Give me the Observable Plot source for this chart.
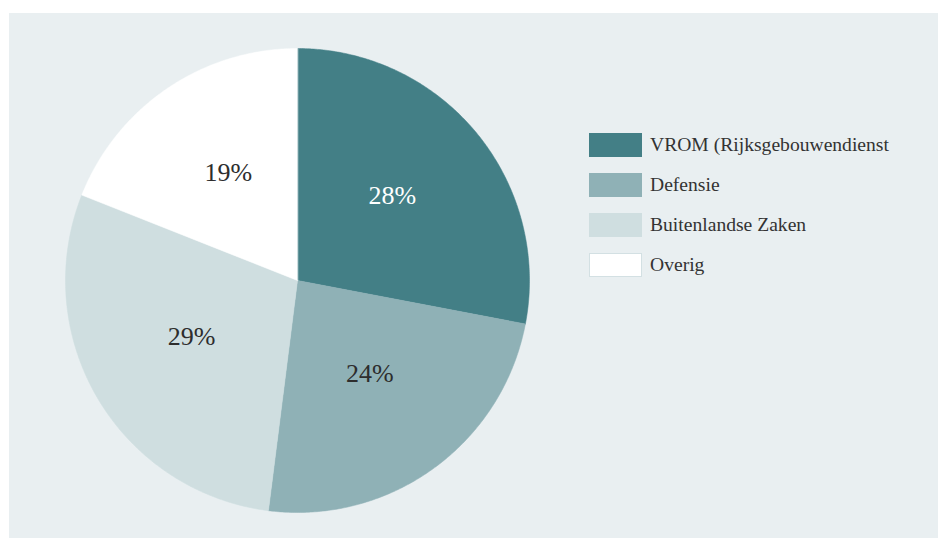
<!DOCTYPE html>
<html><head><meta charset="utf-8">
<script src="https://cdn.jsdelivr.net/npm/d3@7"></script>
<script src="https://cdn.jsdelivr.net/npm/@observablehq/plot@0.6"></script>
<style>
body{margin:0;background:#fff;}
#wrap{position:relative;width:939px;height:538px;overflow:hidden;}
#panel{position:absolute;left:9px;top:13px;width:929px;height:525px;background:#e9eff1;}
#chart{position:absolute;left:0;top:0;}
#legend{position:absolute;left:589px;top:133px;font-family:"Liberation Serif",serif;font-size:19.6px;color:#333;}
.item{display:flex;align-items:center;height:24px;margin-bottom:16px;white-space:nowrap;}
.sw{width:53px;height:24px;box-sizing:border-box;margin-right:8px;}
</style></head><body>
<div id="wrap"><div id="panel"></div><div id="chart"></div><div id="legend"></div></div>
<script>
const categories = ["VROM (Rijksgebouwendienst", "Defensie", "Buitenlandse Zaken", "Overig"];
const shares = [28, 24, 29, 19];
const labels = ["28%", "24%", "29%", "19%"];
const colors = ["#437f86", "#8fb1b6", "#cfdee0", "#ffffff"];
const labelColors = ["#ffffff", "#2d2d2d", "#2d2d2d", "#2d2d2d"];

const arcs = d3.pie().sort(null).value(d => d)(shares);
function slicePolygon(a0, a1) {
  const pts = [[0, 0]];
  const n = Math.max(2, Math.ceil((a1 - a0) / (Math.PI / 360)));
  for (let i = 0; i <= n; i++) {
    const a = a0 + (a1 - a0) * i / n;
    pts.push([Math.sin(a), Math.cos(a)]);
  }
  pts.push([0, 0]);
  return pts;
}
const slices = arcs.map((a, i) => ({
  type: "Feature",
  properties: {name: categories[i], color: colors[i]},
  geometry: {type: "Polygon", coordinates: [slicePolygon(a.startAngle, a.endAngle)]}
}));
const labelR = 0.53;
const labelData = arcs.map((a, i) => {
  const m = (a.startAngle + a.endAngle) / 2;
  return {x: labelR * Math.sin(m), y: labelR * Math.cos(m), text: labels[i], color: labelColors[i]};
});
const square = {type: "Polygon", coordinates: [[[-1, -1], [1, -1], [1, 1], [-1, 1], [-1, -1]]]};

const plot = Plot.plot({
  width: 939,
  height: 538,
  margin: 0,
  style: {background: "transparent"},
  projection: {type: "reflect-y", domain: square, insetLeft: 65, insetRight: 410, insetTop: 48, insetBottom: 26},
  marks: [
    Plot.geo(slices, {fill: d => d.properties.color, stroke: d => d.properties.color, strokeWidth: 0.5}),
    Plot.text(labelData, {x: "x", y: "y", text: "text", fill: "color", fontSize: 26, fontFamily: "Liberation Serif", lineAnchor: "bottom", dy: 2})
  ]
});
document.getElementById("chart").appendChild(plot);

const legend = document.getElementById("legend");
categories.forEach((c, i) => {
  const item = document.createElement("div");
  item.className = "item";
  const sw = document.createElement("div");
  sw.className = "sw";
  sw.style.background = colors[i];
  if (colors[i] === "#ffffff") sw.style.border = "1px solid #d3e0e3";
  const t = document.createElement("span");
  t.textContent = c;
  item.appendChild(sw);
  item.appendChild(t);
  legend.appendChild(item);
});
</script>
</body></html>
